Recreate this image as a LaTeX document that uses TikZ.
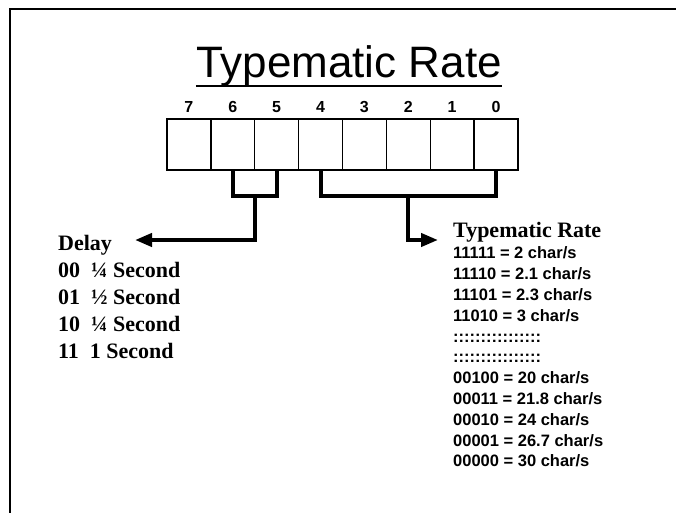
\documentclass[tikz,border=0pt]{standalone}
\usepackage{fontspec}
\setmainfont{Liberation Serif}
\setsansfont{Liberation Sans}
\usetikzlibrary{arrows.meta,calc}

\begin{document}
\begin{tikzpicture}[x=1pt, y=-1pt, >={Triangle[length=17pt,width=13pt]},
  cell/.style={draw, line width=1.3pt, minimum width=43.875pt, minimum height=51pt, inner sep=0pt},
  bitnum/.style={font=\sffamily\bfseries\fontsize{16}{16}\selectfont, anchor=base, inner sep=0pt},
  serifhead/.style={font=\rmfamily\bfseries\fontsize{22}{22}\selectfont, anchor=base west, inner sep=0pt},
  ratetxt/.style={font=\sffamily\bfseries\fontsize{16.5}{16.5}\selectfont, anchor=base west, inner sep=0pt},
  bracket/.style={line width=4pt}]
  \useasboundingbox (0,0) rectangle (676,513);

  % Slide frame
  \draw[line width=2.5pt] (10,513) -- (10,9) -- (676,9);

  % Title
  \node[font=\sffamily\fontsize{44}{44}\selectfont, anchor=base, inner sep=0pt] (title) at (349,78) {Typematic Rate};
  \draw[line width=1.3pt] ([yshift=-8pt]title.base west) -- ([yshift=-8pt]title.base east);

  % Register bits 7..0
  \foreach \i in {0,...,7} {
    \node[cell] (b\i) at (167+43.875*7.5-43.875*\i,144.5) {};
    \node[bitnum] (n\i) at (167+43.875*7.5-43.875*\i,113) {\i};
  }

  % Brackets
  \draw[bracket] (b6.south) -- ++(0,25) -| (b5.south);
  \draw[bracket] (b4.south) -- ++(0,25) -| (b0.south);
  \coordinate (dmid) at ($(b6.south)!.5!(b5.south)+(0,25)$);
  \coordinate (rmid) at ($(b4.south)!.5!(b0.south)+(0,25)$);
  \coordinate (dtip) at (135,240);
  \coordinate (rtip) at (438,240);
  \draw[->, line width=4pt] (dmid) |- (dtip);
  \draw[->, line width=4pt] (rmid) |- (rtip);

  % Delay values
  \node[serifhead] (delay) at (58,250) {Delay};
  \foreach \dbits/\dtime [count=\k] in {00/¼, 01/½, 10/¼, 11/1}
    \node[serifhead] (d\k) at (58,250+27*\k) {\dbits\ \ \dtime\ Second};

  % Rate values
  \node[serifhead] (ratehead) at (453,237) {Typematic Rate};
  \foreach \rline [count=\k] in {11111 = 2 char/s, 11110 = 2.1 char/s, 11101 = 2.3 char/s,
      11010 = 3 char/s, ::::::::::::::::, ::::::::::::::::, 00100 = 20 char/s,
      00011 = 21.8 char/s, 00010 = 24 char/s, 00001 = 26.7 char/s, 00000 = 30 char/s}
    \node[ratetxt] (r\k) at (453,238+20.8*\k) {\rline};
\end{tikzpicture}
\end{document}
